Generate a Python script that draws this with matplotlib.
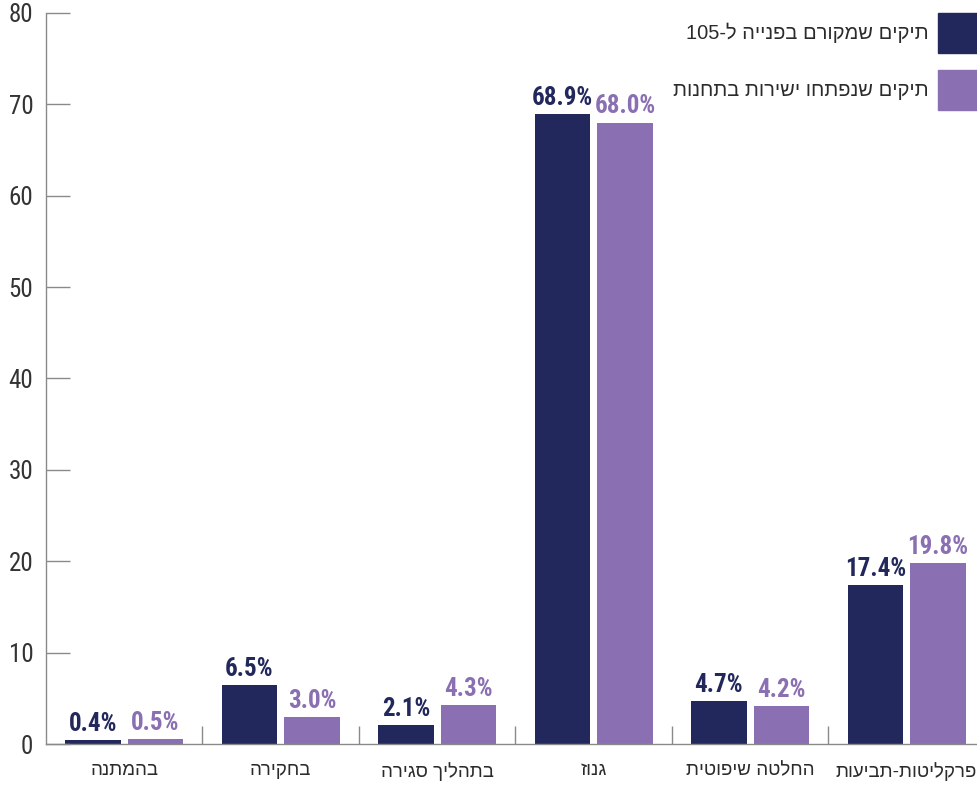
import numpy as np
import matplotlib
matplotlib.use("Agg")
import matplotlib.pyplot as plt
from matplotlib.patches import Rectangle
import re

num_font = ['Roboto Condensed', 'Liberation Sans', 'DejaVu Sans']
heb_font = ['Liberation Sans', 'DejaVu Sans']
plt.rcParams['font.family'] = num_font

categories = ["בהמתנה", "בחקירה", "בתהליך סגירה", "גנוז", "החלטה שיפוטית", "פרקליטות-תביעות"]
series_names = ["תיקים שמקורם בפנייה ל-105", "תיקים שנפתחו ישירות בתחנות"]
from_105 = [0.4, 6.5, 2.1, 68.9, 4.7, 17.4]
direct = [0.5, 3.0, 4.3, 68.0, 4.2, 19.8]

navy = "#23285c"
purple = "#8a6fb2"
grey = "#8a8a8a"


def rtl(s):
    # matplotlib has no bidi support: flip the string, then put digit runs back
    r = s[::-1]
    return re.sub(r"[0-9.]+", lambda m: m.group(0)[::-1], r)


fig = plt.figure(figsize=(9.77, 7.87), dpi=100)
ax = fig.add_axes([0.047, 0.0546, 0.953, 0.929])

x = np.arange(len(categories))
w = 0.355
b1 = ax.bar(x - 0.2, from_105, w, color=navy)
b2 = ax.bar(x + 0.2, direct, w, color=purple)

for bars, vals, c in [(b1, from_105, navy), (b2, direct, purple)]:
    for rect, v in zip(bars, vals):
        ax.text(rect.get_x() + rect.get_width() / 2, v + 0.45, f"{v:.1f}%",
                ha="center", va="bottom", color=c, fontsize=18, fontweight="bold")

ax.set_xlim(-0.5, 5.45)
ax.set_ylim(0, 80)
ax.set_yticks(range(0, 81, 10))
ax.set_xticks(x)
ax.set_xticklabels([rtl(c) for c in categories], fontsize=13.5, color="#2b2b2b",
                   family=heb_font)
ax.set_xticks(np.arange(0.5, 5, 1), minor=True)
ax.tick_params(axis="x", which="major", length=0, pad=13)
ax.tick_params(axis="x", which="minor", direction="in", length=13, color=grey, width=1)
ax.tick_params(axis="y", direction="in", length=17, color=grey, width=1,
               labelsize=18, labelcolor="#333333", pad=9)

for s in ["top", "right"]:
    ax.spines[s].set_visible(False)
for s in ["left", "bottom"]:
    ax.spines[s].set_color(grey)
    ax.spines[s].set_linewidth(1)

# legend, drawn by hand so the text sits right-aligned left of the swatches
for i, (name, c) in enumerate(zip(series_names, [navy, purple])):
    y0 = 1 - (53 + i * 57) / 787
    fig.patches.append(Rectangle((938 / 977, y0), 39 / 977, 40 / 787,
                                 transform=fig.transFigure, color=c))
    fig.text(929 / 977, y0 + 20 / 787, rtl(name), ha="right", va="center",
             fontsize=14.5, color="#2b2b2b", family=heb_font)

fig.savefig("out.png", dpi=100)
